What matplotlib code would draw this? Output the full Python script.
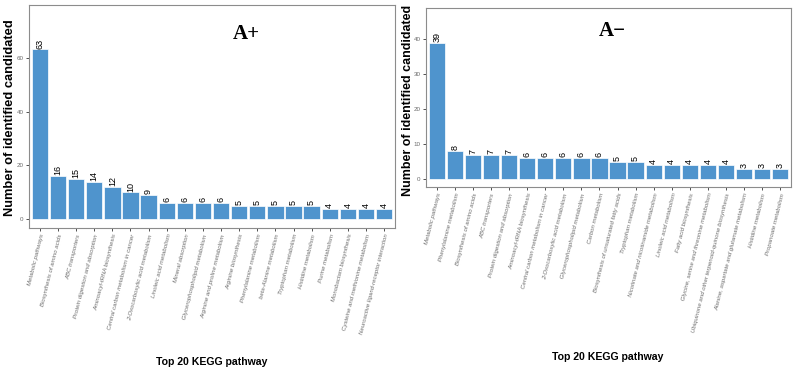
import matplotlib
matplotlib.use("Agg")
import matplotlib.pyplot as plt

plt.rcParams['font.family'] = ['Liberation Sans', 'DejaVu Sans']

left_pathways = [
    "Metabolic pathways", "Biosynthesis of amino acids", "ABC transporters",
    "Protein digestion and absorption", "Aminoacyl-tRNA biosynthesis",
    "Central carbon metabolism in cancer", "2-Oxocarboxylic acid metabolism",
    "Linoleic acid metabolism", "Mineral absorption", "Glycerophospholipid metabolism",
    "Arginine and proline metabolism", "Arginine biosynthesis",
    "Phenylalanine metabolism", "beta-Alanine metabolism", "Tryptophan metabolism",
    "Histidine metabolism", "Purine metabolism", "Monobactam biosynthesis",
    "Cysteine and methionine metabolism", "Neuroactive ligand-receptor interaction",
]
left_counts = [63, 16, 15, 14, 12, 10, 9, 6, 6, 6, 6, 5, 5, 5, 5, 5, 4, 4, 4, 4]

right_pathways = [
    "Metabolic pathways", "Phenylalanine metabolism", "Biosynthesis of amino acids",
    "ABC transporters", "Protein digestion and absorption", "Aminoacyl-tRNA biosynthesis",
    "Central carbon metabolism in cancer", "2-Oxocarboxylic acid metabolism",
    "Glycerophospholipid metabolism", "Carbon metabolism",
    "Biosynthesis of unsaturated fatty acids", "Tryptophan metabolism",
    "Nicotinate and nicotinamide metabolism", "Linoleic acid metabolism",
    "Fatty acid biosynthesis", "Glycine, serine and threonine metabolism",
    "Ubiquinone and other terpenoid-quinone biosynthesis",
    "Alanine, aspartate and glutamate metabolism", "Histidine metabolism",
    "Propanoate metabolism",
]
right_counts = [39, 8, 7, 7, 7, 6, 6, 6, 6, 6, 5, 5, 4, 4, 4, 4, 4, 3, 3, 3]

left_yticks = [0, 20, 40, 60]
right_yticks = [0, 10, 20, 30, 40]

W, H = 797, 371
fig = plt.figure(figsize=(W / 100, H / 100), dpi=100)
fig.patch.set_facecolor("white")

BAR = "#4F94CD"


def panel(rect_px, names, counts, yticks, ylim, title, title_xy_px, xlabel_xy_px,
          ylabel_xy_px, ylabel_size):
    x0, y0, x1, y1 = rect_px
    ax = fig.add_axes([x0 / W, 1 - y1 / H, (x1 - x0) / W, (y1 - y0) / H])
    xs = list(range(len(names)))
    ax.bar(xs, counts, width=0.9, color=BAR, edgecolor="white", linewidth=0.5)
    for x, c in zip(xs, counts):
        ax.text(x, c + ylim[1] * 0.004, str(c), rotation=90, ha="center", va="bottom",
                fontsize=6.5, color="black")
    ax.set_xlim(-0.6, len(names) - 0.4)
    ax.set_ylim(*ylim)
    ax.set_xticks(xs)
    ax.set_xticklabels(names, rotation=76, ha="right", rotation_mode="anchor",
                       fontsize=4.3, color="#6b6b6b", style="italic")
    ax.set_yticks(yticks)
    ax.set_yticklabels([str(t) for t in yticks], fontsize=4.5, color="#6b6b6b")
    ax.tick_params(axis="both", length=2.5, width=0.6, color="#333333", pad=1.5)
    for s in ax.spines.values():
        s.set_color("#8c8c8c")
        s.set_linewidth(0.8)
    ax.set_facecolor("white")
    fig.text(title_xy_px[0] / W, 1 - title_xy_px[1] / H, title, fontsize=15,
             fontweight="bold", family=["Liberation Serif", "DejaVu Serif"],
             ha="center", va="center")
    fig.text(xlabel_xy_px[0] / W, 1 - xlabel_xy_px[1] / H, "Top 20 KEGG pathway",
             fontsize=7.6, fontweight="bold", ha="center", va="center")
    fig.text(ylabel_xy_px[0] / W, 1 - ylabel_xy_px[1] / H, "Number of identified candidated",
             fontsize=ylabel_size, fontweight="bold", rotation=90, ha="center", va="center")
    return ax


panel((29, 5, 395, 228), left_pathways, left_counts, left_yticks, (-3.2, 79.5),
      "A+", (246, 34), (212, 362), (10, 118), 9.3)
panel((426, 8, 791, 187), right_pathways, right_counts, right_yticks, (-2.3, 49),
      "A\u2212", (612, 31), (608, 357), (408, 100), 9.0)

fig.savefig("out.png", dpi=100, facecolor="white")
